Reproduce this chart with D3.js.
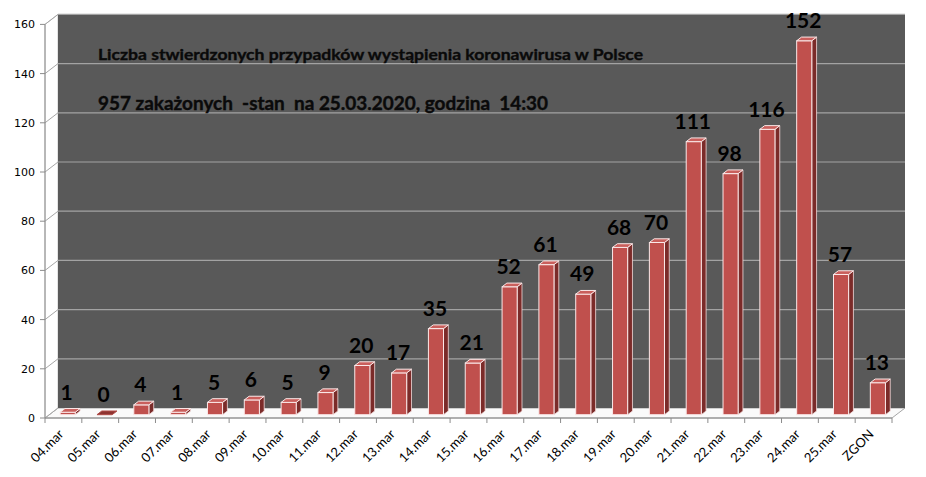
<!DOCTYPE html>
<html>
<head>
<meta charset="utf-8">
<script src="https://cdn.jsdelivr.net/npm/d3@7"></script>
<style>
  body { margin: 0; background: #fff; }
  text { font-family: Lato, "Open Sans", sans-serif; }
</style>
</head>
<body>
<div id="chart"></div>
<script>
// chart data
const categories = ["04.mar", "05.mar", "06.mar", "07.mar", "08.mar", "09.mar", "10.mar",
  "11.mar", "12.mar", "13.mar", "14.mar", "15.mar", "16.mar", "17.mar", "18.mar", "19.mar",
  "20.mar", "21.mar", "22.mar", "23.mar", "24.mar", "25.mar", "ZGON"];
const cases = [1, 0, 4, 1, 5, 6, 5, 9, 20, 17, 35, 21, 52, 61, 49, 68, 70, 111, 98, 116, 152, 57, 13];
const yTicks = [0, 20, 40, 60, 80, 100, 120, 140, 160];
const titleLine1 = "Liczba stwierdzonych przypadków wystąpienia koronawirusa w Polsce";
const titleLine2 = "957 zakażonych  -stan  na 25.03.2020, godzina  14:30";

const W = 926, H = 477;
// front plane of the 3d box and depth vector
var frontLeft = 45, frontRight = 892, frontBase = 418;
var depth = { dx: 13, dy: -10 };
var barT0 = 0.33, barT1 = 0.7;

var x = d3.scaleBand().domain(categories).range([frontLeft, frontRight]).paddingInner(0.59).paddingOuter(0.295);
var y = d3.scaleLinear().domain([0, 160]).range([frontBase, frontBase - 393.6]);

// shift a point back into the box by fraction t of the depth
function back(px, py, t) {
  return [px + depth.dx * t, py + depth.dy * t];
}

var svg = d3.select("#chart").append("svg")
  .attr("width", W)
  .attr("height", H);

svg.append("rect").attr("width", W).attr("height", H).attr("fill", "#fff");

const line = d3.line();

// floor
svg.append("path")
  .attr("d", line([[frontLeft, frontBase], [frontRight, frontBase],
    back(frontRight, frontBase, 1), back(frontLeft, frontBase, 1)]) + "Z")
  .attr("fill", "#fafafa")
  .attr("stroke", "#a6a6a6");

// left side wall
svg.append("path")
  .attr("d", line([[frontLeft, y(0)], back(frontLeft, y(0), 1),
    back(frontLeft, y(160), 1), [frontLeft, y(160)]]) + "Z")
  .attr("fill", "#fff")
  .attr("stroke", "#c8c8c8");

// back wall
var wallL = frontLeft + depth.dx, wallR = frontRight + depth.dx;
svg.append("rect")
  .attr("x", wallL)
  .attr("y", y(160) + depth.dy)
  .attr("width", wallR - wallL)
  .attr("height", y(0) - y(160))
  .attr("fill", "#595959");

// gridlines on back wall and side wall
var grid = svg.append("g");
yTicks.forEach(function (v) {
  if (v > 0) {
    grid.append("line")
      .attr("x1", wallL).attr("x2", wallR)
      .attr("y1", y(v) + depth.dy).attr("y2", y(v) + depth.dy)
      .attr("stroke", "#a3a3a3").attr("stroke-width", 1.2);
  }
  grid.append("line")
    .attr("x1", frontLeft).attr("y1", y(v))
    .attr("x2", wallL).attr("y2", y(v) + depth.dy)
    .attr("stroke", "#a6a6a6");
});

// y axis
var yAxis = svg.append("g");
yAxis.append("line")
  .attr("x1", frontLeft).attr("x2", frontLeft)
  .attr("y1", y(0)).attr("y2", y(160))
  .attr("stroke", "#8c8c8c");
yTicks.forEach(function (v) {
  yAxis.append("line")
    .attr("x1", frontLeft - 5).attr("x2", frontLeft)
    .attr("y1", y(v)).attr("y2", y(v))
    .attr("stroke", "#8c8c8c");
  yAxis.append("text")
    .attr("x", 35)
    .attr("y", y(v))
    .attr("dy", "0.36em")
    .attr("text-anchor", "end")
    .style("font-family", "'DejaVu Sans', sans-serif")
    .style("font-size", "11px")
    .attr("fill", "#000")
    .text(v);
});

// x axis
var xAxis = svg.append("g");
xAxis.append("line")
  .attr("x1", frontLeft).attr("x2", frontRight)
  .attr("y1", frontBase).attr("y2", frontBase)
  .attr("stroke", "#8c8c8c");
var step = x.step();
d3.range(categories.length + 1).forEach(function (i) {
  var tx = frontLeft + i * step;
  xAxis.append("line")
    .attr("x1", tx).attr("x2", tx)
    .attr("y1", frontBase).attr("y2", frontBase + 5)
    .attr("stroke", "#8c8c8c");
});
categories.forEach(function (c) {
  var cx = x(c) + x.bandwidth() / 2 + 1;
  xAxis.append("text")
    .attr("transform", "translate(" + cx + "," + (frontBase + 17) + ") rotate(-45)")
    .attr("text-anchor", "end")
    .style("font-size", "13px")
    .attr("fill", "#000")
    .text(c);
});

// bars
var bars = svg.append("g");
cases.forEach(function (v, i) {
  var c = categories[i];
  var x0 = x(c) + depth.dx * barT0;
  var x1 = x0 + x.bandwidth();
  var yb = y(0) + depth.dy * barT0;
  var yt = y(v) + depth.dy * barT0;
  var t = barT1 - barT0;
  var g = bars.append("g");
  // right side
  g.append("path")
    .attr("d", line([[x1, yb], back(x1, yb, t), back(x1, yt, t), [x1, yt]]) + "Z")
    .attr("fill", "#7b2b29")
    .attr("stroke", "#f4dcdc").attr("stroke-width", 0.8);
  // front
  if (v > 0) {
    g.append("rect")
      .attr("x", x0).attr("y", yt)
      .attr("width", x1 - x0).attr("height", yb - yt)
      .attr("fill", "#c0504d")
      .attr("stroke", "#fbe9e9").attr("stroke-width", 1);
  }
  // top
  g.append("path")
    .attr("d", line([[x0, yt], [x1, yt], back(x1, yt, t), back(x0, yt, t)]) + "Z")
    .attr("fill", v > 0 ? "#c95f5c" : "#8e3431")
    .attr("stroke", v > 0 ? "#fbe9e9" : "#b04a47").attr("stroke-width", 1);

  // value label
  svg.append("text")
    .attr("x", x0 + x.bandwidth() / 2 - 1)
    .attr("y", yt + depth.dy * t - 9)
    .attr("text-anchor", "middle")
    .style("font-size", "21px")
    .style("font-weight", "bold")
    .attr("fill", "#000")
    .text(v);
});

// titles inside the plot
svg.append("text")
  .attr("x", 98).attr("y", 60)
  .style("font-size", "15px")
  .style("font-weight", "bold")
  .style("white-space", "pre")
  .attr("textLength", 545)
  .attr("lengthAdjust", "spacingAndGlyphs")
  .attr("fill", "#0a0a0a")
  .attr("stroke", "#0a0a0a").attr("stroke-width", 0.35)
  .text(titleLine1);

svg.append("text")
  .attr("x", 98).attr("y", 110)
  .style("font-size", "19px")
  .style("font-weight", "bold")
  .style("white-space", "pre")
  .attr("textLength", 450)
  .attr("lengthAdjust", "spacingAndGlyphs")
  .attr("fill", "#0a0a0a")
  .attr("stroke", "#0a0a0a").attr("stroke-width", 0.4)
  .text(titleLine2);
</script>
</body>
</html>
